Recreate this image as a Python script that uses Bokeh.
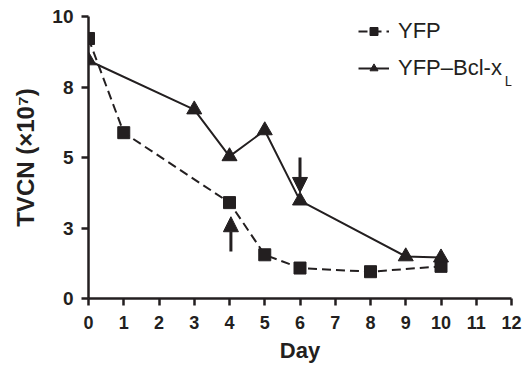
from bokeh.plotting import figure
from bokeh.models import Range1d, FixedTicker, Legend, LegendItem, Arrow, NormalHead, Label
from bokeh.embed import file_html
from bokeh.resources import INLINE

# data
yfp_days = [0, 1, 4, 5, 6, 8, 10]
yfp_tvcn = [9.22, 5.88, 3.4, 1.55, 1.08, 0.95, 1.14]
bcl_days = [0, 3, 4, 5, 6, 9, 10]
bcl_tvcn = [8.44, 6.7, 5.04, 5.96, 3.47, 1.49, 1.45]
x_ticks = list(range(13))
y_ticks = [0, 2.5, 5, 7.5, 10]
y_tick_labels = ["0", "3", "5", "8", "10"]
# arrows: (day, y_start, y_end)
arrow_up = (4.04, 1.67, 2.9)
arrow_down = (6.0, 5.0, 3.76)

INK = "#231f20"
FONT = "Liberation Sans"

p = figure(width=523, height=366, x_range=Range1d(0, 12), y_range=Range1d(0, 10),
           output_backend="svg", toolbar_location=None,
           min_border_left=88, min_border_right=12, min_border_top=16, min_border_bottom=68)
p.outline_line_color = None
p.xgrid.visible = False
p.ygrid.visible = False

for ax in (p.xaxis[0], p.yaxis[0]):
    ax.axis_line_width = 2.5
    ax.axis_line_color = INK
    ax.major_tick_line_width = 2.5
    ax.major_tick_line_color = INK
    ax.major_tick_out = 7
    ax.major_tick_in = 0
    ax.minor_tick_line_color = None
    ax.major_label_text_font = FONT
    ax.major_label_text_font_style = "bold"
    ax.major_label_text_color = INK
    ax.axis_label_text_font = FONT
    ax.axis_label_text_font_style = "bold"
    ax.axis_label_text_color = INK

p.xaxis.ticker = FixedTicker(ticks=x_ticks)
p.xaxis.major_label_text_font_size = "18px"
p.xaxis.major_label_standoff = 10
p.xaxis.axis_label = "Day"
p.xaxis.axis_label_text_font_size = "22px"
p.xaxis.axis_label_standoff = 6

p.yaxis.ticker = FixedTicker(ticks=y_ticks)
p.yaxis.major_label_overrides = {t: l for t, l in zip(y_ticks, y_tick_labels)}
p.yaxis.major_label_text_font_size = "19px"
p.yaxis.major_label_standoff = 8
p.yaxis.axis_label = "TVCN (×10⁷)"
p.yaxis.axis_label_text_font_size = "24px"
p.yaxis.axis_label_standoff = 10

l1 = p.line(yfp_days, yfp_tvcn, line_color=INK, line_width=2, line_dash="9 5")
s1 = p.scatter(yfp_days, yfp_tvcn, marker="square", size=12, fill_color=INK, line_color=INK)
l2 = p.line(bcl_days, bcl_tvcn, line_color=INK, line_width=2)
s2 = p.scatter(bcl_days, bcl_tvcn, marker="triangle", size=15, fill_color=INK, line_color=INK)

for (ax_x, ys, ye) in (arrow_up, arrow_down):
    p.add_layout(Arrow(end=NormalHead(size=15, fill_color=INK, line_color=INK),
                       x_start=ax_x, y_start=ys, x_end=ax_x, y_end=ye,
                       line_width=3, line_color=INK))

legend = Legend(items=[LegendItem(label="YFP", renderers=[l1, s1]),
                       LegendItem(label="YFP–Bcl-x", renderers=[l2, s2])],
                location=(270, 217), glyph_width=31, glyph_height=20, label_height=20,
                label_standoff=9, spacing=11, padding=0, margin=0,
                border_line_color=None, background_fill_alpha=0,
                label_text_font=FONT, label_text_font_size="22px", label_text_color=INK)
p.add_layout(legend)
p.add_layout(Label(x=11.81, y=7.73, text="L", text_font=FONT, text_font_size="14px",
                   text_color=INK, text_baseline="alphabetic"))

open("out.html", "w").write(file_html(p, INLINE))
